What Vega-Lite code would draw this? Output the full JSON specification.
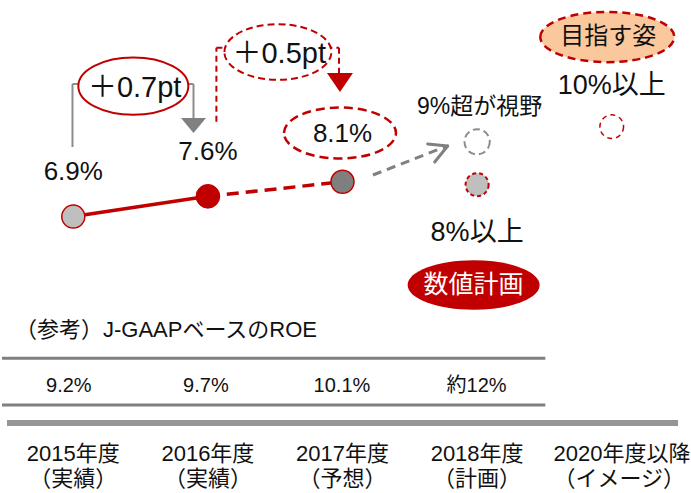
{
  "$schema": "https://vega.github.io/schema/vega-lite/v6.json",
  "width": 691,
  "height": 493,
  "autosize": {"type": "fit", "contains": "padding"},
  "padding": 0,
  "background": "white",
  "config": {"view": {"stroke": null}, "font": "Liberation Sans, Noto Sans CJK JP, sans-serif"},
  "datasets": {
    "roe": [
      {"year": "2015年度", "status": "実績", "i": 0, "v": 6.9},
      {"year": "2016年度", "status": "実績", "i": 1, "v": 7.6},
      {"year": "2017年度", "status": "予想", "i": 2, "v": 8.1},
      {"year": "2018年度", "status": "計画", "i": 3, "v": 8.0},
      {"year": "2018年度", "status": "視野", "i": 3, "v": 9.48},
      {"year": "2020年度以降", "status": "目指す姿", "i": 4, "v": 10.0}
    ],
    "connectors": [
      {"name": "gray", "i": -0.006, "v": 9.3, "i2": -0.006, "v2": 11.472},
      {"name": "gray", "i": -0.006, "v": 11.472, "i2": 0.893, "v2": 11.472},
      {"name": "gray", "i": 0.893, "v": 11.472, "i2": 0.893, "v2": 10.3},
      {"name": "red", "i": 1.063, "v": 10.172, "i2": 1.063, "v2": 12.724},
      {"name": "red", "i": 1.063, "v": 12.724, "i2": 1.974, "v2": 12.724},
      {"name": "red", "i": 1.974, "v": 12.724, "i2": 1.974, "v2": 11.852},
      {"name": "trend", "i": 2.226, "v": 8.334, "i2": 2.767, "v2": 9.317},
      {"name": "head", "i": 2.633, "v": 9.403, "i2": 2.781, "v2": 9.334},
      {"name": "head", "i": 2.685, "v": 8.783, "i2": 2.781, "v2": 9.334}
    ],
    "table": [
      {"name": "thin", "i": -0.5296, "v": 2.014, "i2": 3.507},
      {"name": "thin", "i": -0.5296, "v": 0.403, "i2": 3.507},
      {"name": "thick", "i": -0.4926, "v": -0.2207, "i2": 4.493}
    ],
    "callouts": [
      {"name": "d07", "i": 0.446, "v": 11.397},
      {"name": "d05", "i": 1.52, "v": 12.576},
      {"name": "f17", "i": 1.981, "v": 9.783},
      {"name": "goal", "i": 3.967, "v": 13.093},
      {"name": "plan", "i": 2.974, "v": 4.541}
    ],
    "heads": [
      {"name": "gray", "i": 0.893, "v": 10.041},
      {"name": "red", "i": 1.981, "v": 11.524}
    ],
    "labels": [
      {"role": "value", "text": "6.9%", "i": 0, "v": 8.438},
      {"role": "value", "text": "7.6%", "i": 1, "v": 9.128},
      {"role": "value", "text": "8.1%", "i": 2, "v": 9.748},
      {"role": "big", "text": "8%以上", "i": 3, "v": 6.334},
      {"role": "big", "text": "10%以上", "i": 4, "v": 11.403},
      {"role": "mid", "text": "9%超が視野", "i": 3.019, "v": 10.679},
      {"role": "delta", "text": "＋0.7pt", "i": 0.456, "v": 11.334},
      {"role": "delta", "text": "＋0.5pt", "i": 1.53, "v": 12.507},
      {"role": "badge", "text": "目指す姿", "i": 3.974, "v": 13.093},
      {"role": "badgeW", "text": "数値計画", "i": 2.974, "v": 4.541},
      {"role": "title", "text": "（参考）J-GAAPベースのROE", "i": -0.433, "v": 2.99},
      {"role": "table", "text": "9.2%", "i": -0.033, "v": 1.066},
      {"role": "table", "text": "9.7%", "i": 0.985, "v": 1.066},
      {"role": "table", "text": "10.1%", "i": 1.996, "v": 1.066},
      {"role": "table", "text": "約12%", "i": 2.996, "v": 1.066},
      {"role": "year", "text": "2015年度", "i": 0, "v": -1.293},
      {"role": "year", "text": "2016年度", "i": 1, "v": -1.293},
      {"role": "year", "text": "2017年度", "i": 2, "v": -1.293},
      {"role": "year", "text": "2018年度", "i": 3, "v": -1.293},
      {"role": "yearL", "text": "2020年度以降", "i": 3.567, "v": -1.293},
      {"role": "year", "text": "（実績）", "i": 0, "v": -2.155},
      {"role": "year", "text": "（実績）", "i": 1, "v": -2.155},
      {"role": "year", "text": "（予想）", "i": 2, "v": -2.155},
      {"role": "year", "text": "（計画）", "i": 3, "v": -2.155},
      {"role": "yearL", "text": "（イメージ）", "i": 3.567, "v": -2.155}
    ]
  },
  "encoding": {
    "x": {"field": "i", "type": "quantitative", "scale": {"domain": [-0.5296, 4.5889], "nice": false, "zero": false}, "axis": null},
    "y": {"field": "v", "type": "quantitative", "scale": {"domain": [-2.631, 14.369], "nice": false, "zero": false}, "axis": null}
  },
  "layer": [
    {
      "data": {"name": "table"},
      "transform": [{"filter": "datum.name == 'thin'"}],
      "mark": {"type": "rule", "color": "#808080", "strokeWidth": 3},
      "encoding": {"x2": {"field": "i2"}}
    },
    {
      "data": {"name": "table"},
      "transform": [{"filter": "datum.name == 'thick'"}],
      "mark": {"type": "rule", "color": "#959595", "strokeWidth": 6},
      "encoding": {"x2": {"field": "i2"}}
    },
    {
      "data": {"name": "connectors"},
      "transform": [{"filter": "datum.name == 'gray'"}],
      "mark": {"type": "rule", "color": "#8c8c8c", "strokeWidth": 2},
      "encoding": {"x2": {"field": "i2"}, "y2": {"field": "v2"}}
    },
    {
      "data": {"name": "connectors"},
      "transform": [{"filter": "datum.name == 'red'"}],
      "mark": {"type": "rule", "color": "#c00000", "strokeWidth": 2, "strokeDash": [6, 4]},
      "encoding": {"x2": {"field": "i2"}, "y2": {"field": "v2"}}
    },
    {
      "data": {"name": "connectors"},
      "transform": [{"filter": "datum.name == 'trend'"}],
      "mark": {"type": "rule", "color": "#808080", "strokeWidth": 3, "strokeDash": [9, 6]},
      "encoding": {"x2": {"field": "i2"}, "y2": {"field": "v2"}}
    },
    {
      "data": {"name": "connectors"},
      "transform": [{"filter": "datum.name == 'head'"}],
      "mark": {"type": "rule", "color": "#808080", "strokeWidth": 3, "strokeCap": "round"},
      "encoding": {"x2": {"field": "i2"}, "y2": {"field": "v2"}}
    },
    {
      "data": {"name": "roe"},
      "transform": [{"filter": "datum.i <= 1"}],
      "mark": {"type": "line", "color": "#c00000", "strokeWidth": 3.5},
      "encoding": {}
    },
    {
      "data": {"name": "roe"},
      "transform": [{"filter": "datum.i >= 1 && datum.i <= 2"}],
      "mark": {"type": "line", "color": "#c00000", "strokeWidth": 3.5, "strokeDash": [12, 7]},
      "encoding": {}
    },
    {
      "data": {"name": "roe"},
      "transform": [{"filter": "datum.i == 0"}],
      "mark": {"type": "point", "shape": "circle", "filled": true, "fill": "#bfbfbf", "stroke": "#c00000", "strokeWidth": 1.5, "size": 531, "opacity": 1}
    },
    {
      "data": {"name": "roe"},
      "transform": [{"filter": "datum.i == 1"}],
      "mark": {"type": "point", "shape": "circle", "filled": true, "fill": "#c00000", "stroke": "#c00000", "strokeWidth": 1, "size": 560, "opacity": 1}
    },
    {
      "data": {"name": "roe"},
      "transform": [{"filter": "datum.i == 2"}],
      "mark": {"type": "point", "shape": "circle", "filled": true, "fill": "#7f7f7f", "stroke": "#c00000", "strokeWidth": 1.5, "size": 531, "opacity": 1}
    },
    {
      "data": {"name": "roe"},
      "transform": [{"filter": "datum.status == '計画'"}],
      "mark": {"type": "point", "shape": "circle", "filled": true, "fill": "#bfbfbf", "stroke": "#c00000", "strokeWidth": 2, "strokeDash": [4, 3], "size": 531, "opacity": 1}
    },
    {
      "data": {"name": "roe"},
      "transform": [{"filter": "datum.status == '視野'"}],
      "mark": {"type": "point", "shape": "circle", "filled": false, "stroke": "#8c8c8c", "strokeWidth": 2, "strokeDash": [7, 4], "size": 640, "opacity": 1}
    },
    {
      "data": {"name": "roe"},
      "transform": [{"filter": "datum.status == '目指す姿'"}],
      "mark": {"type": "point", "shape": "circle", "filled": false, "stroke": "#c00000", "strokeWidth": 1.5, "strokeDash": [5, 4], "size": 560, "opacity": 1}
    },
    {
      "data": {"name": "callouts"},
      "transform": [{"filter": "datum.name == 'd07'"}],
      "mark": {"type": "point", "shape": "M-1,0C-1,-0.2872,-0.5523,-0.52,0,-0.52C0.5523,-0.52,1,-0.2872,1,0C1,0.2872,0.5523,0.52,0,0.52C-0.5523,0.52,-1,0.2872,-1,0Z", "filled": true, "fill": "white", "stroke": "#c00000", "strokeWidth": 2, "size": 12100, "opacity": 1}
    },
    {
      "data": {"name": "callouts"},
      "transform": [{"filter": "datum.name == 'd05'"}],
      "mark": {"type": "point", "shape": "M-1,0C-1,-0.2872,-0.5523,-0.52,0,-0.52C0.5523,-0.52,1,-0.2872,1,0C1,0.2872,0.5523,0.52,0,0.52C-0.5523,0.52,-1,0.2872,-1,0Z", "filled": true, "fill": "white", "stroke": "#c00000", "strokeWidth": 2, "strokeDash": [7, 4], "size": 11449, "opacity": 1}
    },
    {
      "data": {"name": "callouts"},
      "transform": [{"filter": "datum.name == 'f17'"}],
      "mark": {"type": "point", "shape": "M-1,0C-1,-0.2513,-0.5523,-0.455,0,-0.455C0.5523,-0.455,1,-0.2513,1,0C1,0.2513,0.5523,0.455,0,0.455C-0.5523,0.455,-1,0.2513,-1,0Z", "filled": true, "fill": "white", "stroke": "#c00000", "strokeWidth": 2.5, "strokeDash": [9, 5], "size": 12544, "opacity": 1}
    },
    {
      "data": {"name": "callouts"},
      "transform": [{"filter": "datum.name == 'goal'"}],
      "mark": {"type": "point", "shape": "M-1,0C-1,-0.2071,-0.5523,-0.375,0,-0.375C0.5523,-0.375,1,-0.2071,1,0C1,0.2071,0.5523,0.375,0,0.375C-0.5523,0.375,-1,0.2071,-1,0Z", "filled": true, "fill": "#fac89c", "stroke": "#c00000", "strokeWidth": 2.5, "strokeDash": [8, 5], "size": 17956, "opacity": 1}
    },
    {
      "data": {"name": "callouts"},
      "transform": [{"filter": "datum.name == 'plan'"}],
      "mark": {"type": "point", "shape": "M-1,0C-1,-0.2071,-0.5523,-0.375,0,-0.375C0.5523,-0.375,1,-0.2071,1,0C1,0.2071,0.5523,0.375,0,0.375C-0.5523,0.375,-1,0.2071,-1,0Z", "filled": true, "fill": "#c00000", "strokeWidth": 0, "size": 17424, "opacity": 1}
    },
    {
      "data": {"name": "heads"},
      "transform": [{"filter": "datum.name == 'gray'"}],
      "mark": {"type": "point", "shape": "M-1,-0.6L1,-0.6L0,0.6Z", "filled": true, "fill": "#808080", "strokeWidth": 0, "size": 625, "opacity": 1}
    },
    {
      "data": {"name": "heads"},
      "transform": [{"filter": "datum.name == 'red'"}],
      "mark": {"type": "point", "shape": "M-1,-0.73L1,-0.73L0,0.73Z", "filled": true, "fill": "#c00000", "strokeWidth": 0, "size": 676, "opacity": 1}
    },
    {
      "data": {"name": "labels"},
      "transform": [{"filter": "datum.role == 'value'"}],
      "mark": {"type": "text", "fontSize": 26, "align": "center", "baseline": "middle", "color": "#111111"},
      "encoding": {"text": {"field": "text"}}
    },
    {
      "data": {"name": "labels"},
      "transform": [{"filter": "datum.role == 'big'"}],
      "mark": {"type": "text", "fontSize": 27, "align": "center", "baseline": "middle", "color": "#111111"},
      "encoding": {"text": {"field": "text"}}
    },
    {
      "data": {"name": "labels"},
      "transform": [{"filter": "datum.role == 'mid'"}],
      "mark": {"type": "text", "fontSize": 23, "align": "center", "baseline": "middle", "color": "#111111"},
      "encoding": {"text": {"field": "text"}}
    },
    {
      "data": {"name": "labels"},
      "transform": [{"filter": "datum.role == 'delta'"}],
      "mark": {"type": "text", "fontSize": 29, "align": "center", "baseline": "middle", "color": "#111111"},
      "encoding": {"text": {"field": "text"}}
    },
    {
      "data": {"name": "labels"},
      "transform": [{"filter": "datum.role == 'badge'"}],
      "mark": {"type": "text", "fontSize": 24, "align": "center", "baseline": "middle", "color": "#111111"},
      "encoding": {"text": {"field": "text"}}
    },
    {
      "data": {"name": "labels"},
      "transform": [{"filter": "datum.role == 'badgeW'"}],
      "mark": {"type": "text", "fontSize": 25, "align": "center", "baseline": "middle", "color": "white"},
      "encoding": {"text": {"field": "text"}}
    },
    {
      "data": {"name": "labels"},
      "transform": [{"filter": "datum.role == 'title'"}],
      "mark": {"type": "text", "fontSize": 22, "align": "left", "baseline": "middle", "color": "#111111"},
      "encoding": {"text": {"field": "text"}}
    },
    {
      "data": {"name": "labels"},
      "transform": [{"filter": "datum.role == 'table'"}],
      "mark": {"type": "text", "fontSize": 20, "align": "center", "baseline": "middle", "color": "#111111"},
      "encoding": {"text": {"field": "text"}}
    },
    {
      "data": {"name": "labels"},
      "transform": [{"filter": "datum.role == 'year'"}],
      "mark": {"type": "text", "fontSize": 22, "align": "center", "baseline": "middle", "color": "#111111"},
      "encoding": {"text": {"field": "text"}}
    },
    {
      "data": {"name": "labels"},
      "transform": [{"filter": "datum.role == 'yearL'"}],
      "mark": {"type": "text", "fontSize": 22, "align": "left", "baseline": "middle", "color": "#111111"},
      "encoding": {"text": {"field": "text"}}
    }
  ]
}
